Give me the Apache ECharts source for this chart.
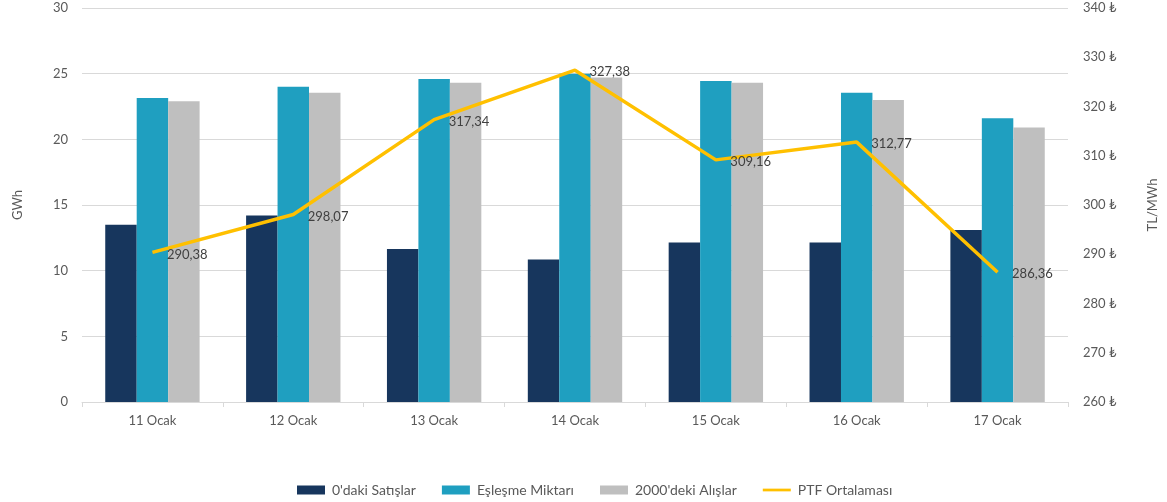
<!DOCTYPE html>
<html><head><meta charset="utf-8">
<script src="https://cdn.jsdelivr.net/npm/echarts@6/dist/echarts.min.js"></script>
<style>html,body{margin:0;padding:0;background:#fff}#c{width:1167px;height:502px}</style>
</head><body><div id="c"></div>
<script>
const categories = ['11 Ocak','12 Ocak','13 Ocak','14 Ocak','15 Ocak','16 Ocak','17 Ocak'];
const satislar = [13.5, 14.2, 11.65, 10.85, 12.15, 12.15, 13.1];
const eslesme = [23.15, 24.0, 24.6, 25.0, 24.45, 23.55, 21.6];
const alislar = [22.9, 23.55, 24.3, 24.7, 24.3, 23.0, 20.9];
const ptf = [290.38, 298.07, 317.34, 327.38, 309.16, 312.77, 286.36];
const seriesNames = ["0'daki Satışlar", 'Eşleşme Miktarı', "2000'deki Alışlar", 'PTF Ortalaması'];

const font = 'Lato, "Open Sans", "DejaVu Sans", sans-serif';
const txt = '#595959';
const chart = echarts.init(document.getElementById('c'));
chart.setOption({
  animation: false,
  textStyle: {fontFamily: font},
  grid: {left: 82, right: 99, top: 8, bottom: 100},
  legend: {
    top: 478, left: 292, itemGap: 26, itemWidth: 28, itemHeight: 9,
    textStyle: {color: txt, fontSize: 14, fontFamily: font, padding: [0, 0, 0, 2]},
    data: [
      {name: seriesNames[0], icon: 'rect'},
      {name: seriesNames[1], icon: 'rect'},
      {name: seriesNames[2], icon: 'rect'},
      {name: seriesNames[3], icon: 'path://M0,0 H36 V3.5 H0 Z', itemStyle: {color: '#FFC000', opacity: 1}}
    ]
  },
  xAxis: {
    type: 'category', data: categories,
    axisLine: {lineStyle: {color: '#d9d9d9'}},
    axisTick: {show: true, length: 5, lineStyle: {color: '#d9d9d9'}},
    axisLabel: {color: txt, fontSize: 13, margin: 12}
  },
  yAxis: [
    {
      type: 'value', min: 0, max: 30, interval: 5,
      name: 'GWh', nameLocation: 'middle', nameGap: 58,
      nameTextStyle: {color: txt, fontSize: 13},
      axisLabel: {color: txt, fontSize: 13, margin: 14},
      axisLine: {show: false}, axisTick: {show: false},
      splitLine: {lineStyle: {color: '#d9d9d9'}}
    },
    {
      type: 'value', min: 260, max: 340, interval: 10,
      name: 'TL/MWh', nameLocation: 'middle', nameGap: 78,
      nameTextStyle: {color: txt, fontSize: 13},
      axisLabel: {color: txt, fontSize: 13, margin: 15, formatter: '{value} ₺'},
      axisLine: {show: false}, axisTick: {show: false},
      splitLine: {show: false}
    }
  ],
  series: [
    {name: seriesNames[0], type: 'bar', data: satislar, barGap: '0%', barCategoryGap: '33%',
     itemStyle: {color: '#17365D'}},
    {name: seriesNames[1], type: 'bar', data: eslesme, barGap: '0%', barCategoryGap: '33%',
     itemStyle: {color: '#1F9FC0'}},
    {name: seriesNames[2], type: 'bar', data: alislar, barGap: '0%', barCategoryGap: '33%',
     itemStyle: {color: '#BFBFBF'}},
    {name: seriesNames[3], type: 'line', yAxisIndex: 1, data: ptf,
     showSymbol: true, symbol: 'circle', symbolSize: 1,
     lineStyle: {color: '#FFC000', width: 3.5},
     itemStyle: {color: 'rgba(255,192,0,0)'},
     label: {show: true, position: 'right', distance: 14, offset: [0, 2], color: '#404040', fontSize: 13,
       formatter: p => p.value.toFixed(2).replace('.', ',')}}
  ]
});
</script></body></html>
